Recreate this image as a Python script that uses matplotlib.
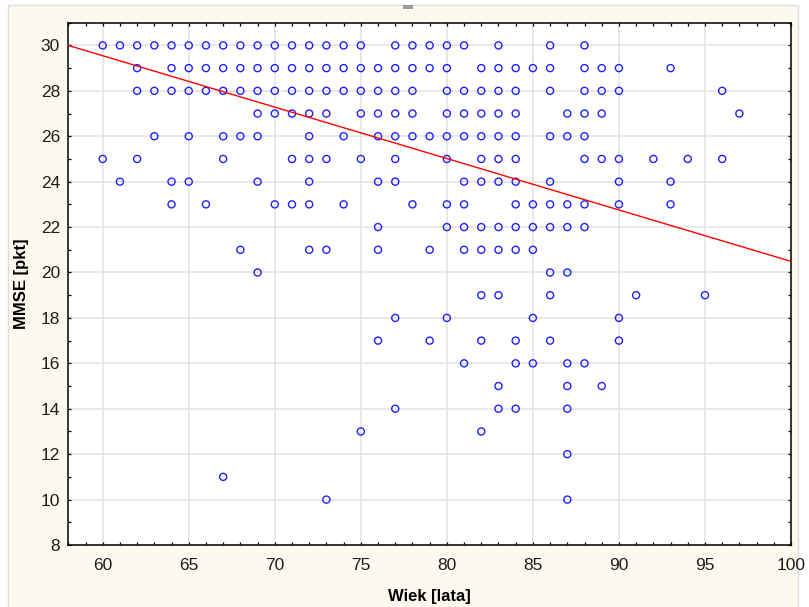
import numpy as np
import matplotlib
matplotlib.use("Agg")
import matplotlib.pyplot as plt
from matplotlib.patches import Rectangle
from matplotlib.ticker import MultipleLocator

# Age [years] and MMSE score of each patient, grouped by score
wiek = [
    60, 61, 62, 63, 64, 65, 66, 67, 68, 69, 70, 71, 72, 73, 74, 75, 77, 78, 79, 80, 81, 83, 86, 88,
    62, 64, 65, 66, 67, 68, 69, 70, 71, 72, 73, 74, 75, 76, 77, 78, 79, 80, 82, 83, 84, 85, 86, 88, 89, 90, 93,
    62, 63, 64, 65, 66, 67, 68, 69, 70, 71, 72, 73, 74, 75, 76, 77, 78, 80, 81, 82, 83, 84, 86, 88, 89, 90, 96,
    69, 70, 71, 72, 73, 75, 76, 77, 78, 80, 81, 82, 83, 84, 87, 88, 89, 97,
    63, 65, 67, 68, 69, 72, 74, 76, 77, 78, 79, 80, 81, 82, 83, 84, 86, 87, 88,
    60, 62, 67, 71, 72, 73, 75, 77, 80, 82, 83, 84, 88, 89, 90, 92, 94, 96,
    61, 64, 65, 69, 72, 76, 77, 81, 82, 83, 84, 86, 90, 93,
    64, 66, 70, 71, 72, 74, 78, 80, 81, 84, 85, 86, 87, 88, 90, 93,
    76, 80, 81, 82, 83, 84, 85, 86, 87, 88,
    68, 72, 73, 76, 79, 81, 82, 83, 84, 85,
    69, 86, 87,
    82, 83, 86, 91, 95,
    77, 80, 85, 90,
    76, 79, 82, 84, 86, 90,
    81, 84, 85, 87, 88,
    83, 87, 89,
    77, 83, 84, 87,
    75, 82,
    87,
    67,
    73, 87,
]
mmse = (
    [30] * 24 + [29] * 27 + [28] * 27 + [27] * 18 + [26] * 19 + [25] * 18
    + [24] * 14 + [23] * 16 + [22] * 10 + [21] * 10 + [20] * 3 + [19] * 5
    + [18] * 4 + [17] * 6 + [16] * 5 + [15] * 3 + [14] * 4 + [13] * 2
    + [12] * 1 + [11] * 1 + [10] * 2
)

# fitted regression line: MMSE = a + b * wiek
reg_a = 43.13
reg_b = -0.2264

x_range = [58, 100]
y_range = [8, 31]

plt.rcParams.update({
    "font.family": ["Liberation Sans", "DejaVu Sans"],
    "font.size": 12,
})

fig = plt.figure(figsize=(8.09, 6.07), dpi=100)
fig.patch.set_facecolor("white")

# cream panel behind the graph, drawn as a bare background axes
bg = fig.add_axes([0, 0, 1, 1], zorder=-5)
bg.set_xlim(0, 809)
bg.set_ylim(607, 0)
bg.axis("off")
bg.add_patch(Rectangle((8, 5), 790, 610, facecolor="#fef9ee", edgecolor="#dcdcdc", linewidth=1.0))
bg.add_patch(Rectangle((403, 5), 10, 4, facecolor="#9a9a9a", edgecolor="none"))

ax = fig.add_axes([68.3 / 809, 62 / 607, 722.7 / 809, 522.3 / 607])
ax.set_facecolor("white")

ax.scatter(wiek, mmse, s=26, facecolors="none", edgecolors="#2020ff", linewidths=1.0, zorder=3)

xs = np.array(x_range, dtype=float)
ax.plot(xs, reg_a + reg_b * xs, color="red", linewidth=1.0, zorder=4)

ax.set_xlim(*x_range)
ax.set_ylim(*y_range)
ax.xaxis.set_minor_locator(MultipleLocator(1))
ax.yaxis.set_minor_locator(MultipleLocator(1))
ax.set_xticks(np.arange(60, 101, 5))
ax.set_yticks(np.arange(8, 31, 2))

ax.grid(True, which="major", color="#e2e2e2", linewidth=1.1, linestyle="-")
ax.set_axisbelow(True)

ax.tick_params(which="both", direction="in", top=True, right=True, length=2.5,
               width=0.9, color="black", labelcolor="#1e1e1e", labelsize=12.5)
ax.tick_params(axis="x", pad=9)
ax.tick_params(axis="y", pad=6)
for spine in ax.spines.values():
    spine.set_linewidth(1.1)
    spine.set_color("black")

ax.set_xlabel("Wiek [lata]", fontweight="bold", fontsize=12, labelpad=12)
ax.set_ylabel("MMSE [pkt]", fontweight="bold", fontsize=12, labelpad=8)

plt.savefig("out.png", dpi=100)
plt.close()
